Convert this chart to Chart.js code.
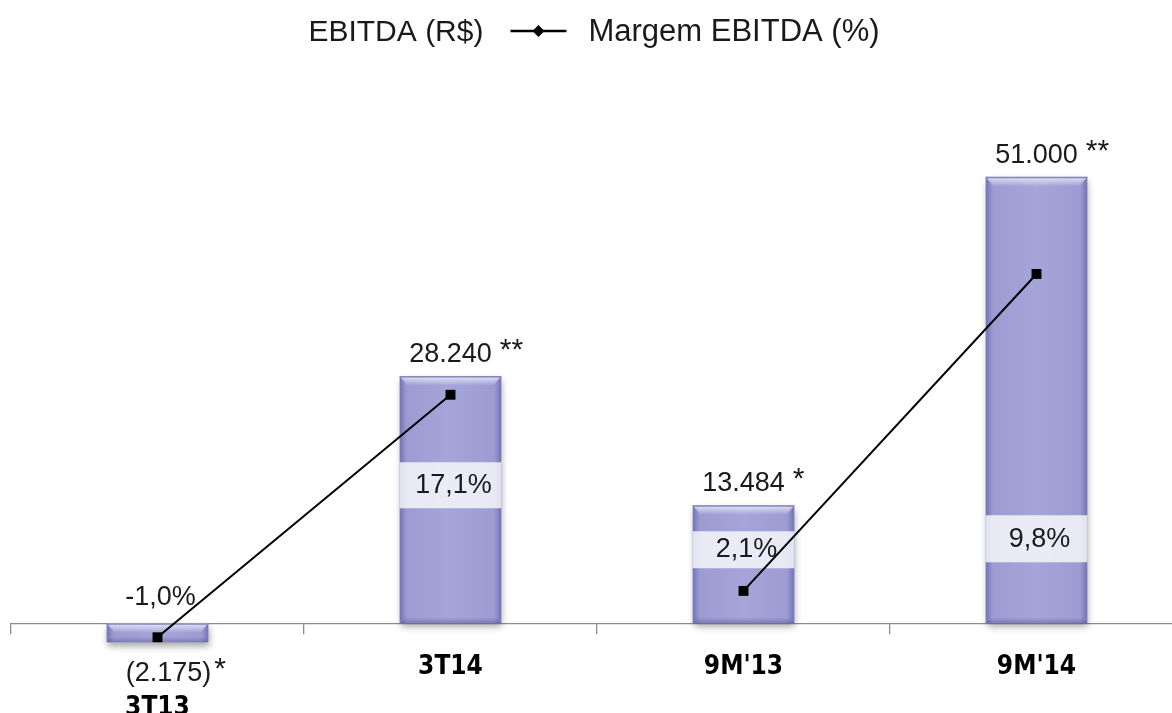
<!DOCTYPE html>
<html lang="pt-BR">
<head>
<meta charset="UTF-8">
<title>EBITDA e Margem EBITDA</title>
<script src="https://cdn.jsdelivr.net/npm/chart.js"></script>
<style>
    html, body { margin: 0; padding: 0; background: #fff; overflow: hidden; }
    #wrap { position: relative; width: 1190px; height: 713px; }
</style>
</head>
<body>
<div id="wrap"><canvas id="ebitdaChart"></canvas></div>
<script>
const categories = ['3T13', '3T14', "9M'13", "9M'14"];
const periodGroup = ['T', 'T', '9M', '9M'];   // line is not joined across groups
const ebitda = [-2175, 28240, 13484, 51000];
const ebitdaNotes = ['*', '**', '*', '**'];
const margin = [-1.0, 17.1, 2.1, 9.8];
// the margin line as it is drawn in the picture (own hidden axis)
const marginLine = [-1.6, 26.1, 3.7, 39.9];

const TEXT_FONT = "'Liberation Sans', Arial, sans-serif";
const AXIS_FONT = "'DejaVu Sans Condensed', 'DejaVu Sans', sans-serif";
const BAR_EDGE = '#7272b6';
const BAR_MID = '#a5a5d9';
const BAR_PCT = 0.347;

function fmtReais(v) {
    const s = Math.abs(v).toString().replace(/\B(?=(\d{3})+(?!\d))/g, '.');
    return v < 0 ? '(' + s + ')' : s;
}
function fmtPct(v) {
    return v.toFixed(1).replace('.', ',') + '%';
}

// percent labels: px above the zero line (box top, box bottom, text centre)
const pctPlacement = [
    { text: 26 },
    { top: 161, bottom: 115, text: 138 },
    { top: 92, bottom: 55, text: 74 },
    { top: 108, bottom: 61, text: 84 }
];

const barDecor = {
    id: 'barDecor',
    beforeDatasetDraw(chart, args) {
        if (args.meta.type !== 'bar') return;
        const c = chart.ctx;
        c.save();
        c.shadowColor = 'rgba(0,0,0,0.35)';
        c.shadowBlur = 7;
        c.shadowOffsetX = 1;
        c.shadowOffsetY = 4;
    },
    afterDatasetDraw(chart, args) {
        if (args.meta.type !== 'bar') return;
        const c = chart.ctx;
        c.restore();
        const zero = chart.scales.y.getPixelForValue(0);
        args.meta.data.forEach(function (bar, i) {
            const left = bar.x - bar.width / 2, right = bar.x + bar.width / 2;
            const top = Math.min(bar.y, bar.base), bottom = Math.max(bar.y, bar.base);
            const h = Math.min(9, (bottom - top) / 2);
            // top bevel
            let g = c.createLinearGradient(0, top, 0, top + h);
            g.addColorStop(0, 'rgba(255,255,255,0.75)');
            g.addColorStop(1, 'rgba(255,255,255,0.05)');
            c.fillStyle = g;
            c.beginPath();
            c.moveTo(left, top); c.lineTo(right, top);
            c.lineTo(right - 7, top + h); c.lineTo(left + 7, top + h);
            c.closePath(); c.fill();
            c.fillStyle = 'rgba(110,110,180,0.8)';
            c.fillRect(left, top, right - left, 1.5);
            // bottom bevel
            g = c.createLinearGradient(0, bottom - 6, 0, bottom);
            g.addColorStop(0, 'rgba(80,80,150,0)');
            g.addColorStop(1, 'rgba(80,80,150,0.45)');
            c.fillStyle = g;
            c.beginPath();
            c.moveTo(left + 6, bottom - 6); c.lineTo(right - 6, bottom - 6);
            c.lineTo(right, bottom); c.lineTo(left, bottom);
            c.closePath(); c.fill();

            // margin label (box + text), under the line
            const p = pctPlacement[i];
            if (p.top !== undefined) {
                c.fillStyle = 'rgba(255,255,255,0.78)';
                c.fillRect(left, zero - p.top, right - left, p.top - p.bottom);
            }
            c.fillStyle = '#1a1a1a';
            c.font = '27px ' + TEXT_FONT;
            c.textAlign = 'center';
            c.textBaseline = 'middle';
            c.fillText(fmtPct(margin[i]), bar.x + 3, zero - p.text);
        });
    },
    afterDraw(chart) {
        const c = chart.ctx;
        const meta = chart.getDatasetMeta(0);
        c.save();
        // value labels with notes
        meta.data.forEach(function (bar, i) {
            const txt = fmtReais(ebitda[i]);
            c.font = '27px ' + TEXT_FONT;
            c.textAlign = 'center';
            c.textBaseline = 'alphabetic';
            c.fillStyle = '#1a1a1a';
            const y = ebitda[i] < 0 ? Math.max(bar.y, bar.base) + 39 : Math.min(bar.y, bar.base) - 14;
            const x = ebitda[i] < 0 ? bar.x + 11 : bar.x;
            c.fillText(txt, x, y);
            const w = c.measureText(txt).width;
            c.font = '30px ' + TEXT_FONT;
            c.textAlign = 'left';
            c.fillText(ebitdaNotes[i], x + w / 2 + (ebitda[i] < 0 ? 3 : 8), y - 3);
        });
        // legend
        const a = chart.chartArea;
        const t1 = 'EBITDA (R$)', t2 = 'Margem EBITDA (%)';
        c.font = '30px ' + TEXT_FONT;
        const w1 = c.measureText(t1).width;
        c.font = '31px ' + TEXT_FONT;
        const w2 = c.measureText(t2).width;
        const total = w1 + 27 + 56 + 22 + w2;
        let x = (a.left + a.right) / 2 - total / 2 - 3;
        const base = 41;
        c.fillStyle = '#1a1a1a';
        c.textAlign = 'left';
        c.textBaseline = 'alphabetic';
        c.font = '30px ' + TEXT_FONT;
        c.fillText(t1, x, base);
        x += w1 + 27;
        c.strokeStyle = '#000';
        c.lineWidth = 2.5;
        c.beginPath(); c.moveTo(x, 31); c.lineTo(x + 56, 31); c.stroke();
        c.fillStyle = '#000';
        c.beginPath();
        c.moveTo(x + 28, 25); c.lineTo(x + 34, 31); c.lineTo(x + 28, 37); c.lineTo(x + 22, 31);
        c.closePath(); c.fill();
        x += 56 + 22;
        c.fillStyle = '#1a1a1a';
        c.font = '31px ' + TEXT_FONT;
        c.fillText(t2, x, base);
        c.restore();
    }
};

new Chart(document.getElementById('ebitdaChart').getContext('2d'), {
    type: 'bar',
    data: {
        labels: categories,
        datasets: [{
            label: 'EBITDA (R$)',
            data: ebitda,
            order: 1,
            yAxisID: 'y',
            categoryPercentage: 1,
            barPercentage: BAR_PCT,
            borderWidth: 0,
            backgroundColor: function (ctx) {
                const x = ctx.chart.scales.x;
                if (!x || ctx.type !== 'data' || !x.width) return BAR_MID;
                const cx = x.getPixelForValue(ctx.dataIndex);
                const w = x.width / categories.length * BAR_PCT;
                const g = ctx.chart.ctx.createLinearGradient(cx - w / 2, 0, cx + w / 2, 0);
                g.addColorStop(0, BAR_EDGE);
                g.addColorStop(0.07, '#9c9cd3');
                g.addColorStop(0.5, BAR_MID);
                g.addColorStop(0.93, '#9c9cd3');
                g.addColorStop(1, BAR_EDGE);
                return g;
            }
        }, {
            type: 'line',
            label: 'Margem EBITDA (%)',
            data: marginLine,
            order: 0,
            yAxisID: 'y1',
            borderColor: '#000',
            borderWidth: 2,
            tension: 0,
            segment: {
                borderColor: function (ctx) {
                    return periodGroup[ctx.p0DataIndex] === periodGroup[ctx.p1DataIndex] ? '#000' : 'rgba(0,0,0,0)';
                }
            },
            pointStyle: 'rect',
            pointRadius: 7,
            pointBackgroundColor: '#000',
            pointBorderWidth: 0
        }]
    },
    options: {
        responsive: true,
        maintainAspectRatio: false,
        animation: false,
        events: [],
        layout: { padding: { left: 11, right: 2, top: 98, bottom: 2.5 } },
        plugins: {
            legend: { display: false },
            tooltip: { enabled: false }
        },
        scales: {
            x: {
                position: { y: 0 },
                border: { color: '#8c8c8c', width: 1.3 },
                grid: { offset: true, drawOnChartArea: false, drawTicks: true, tickLength: 10, color: '#8c8c8c', lineWidth: 1.3 },
                ticks: {
                    color: '#000',
                    padding: 18,
                    maxRotation: 0,
                    autoSkip: false,
                    callback: function (value, index) {
                        return ebitda[index] < 0 ? ['', categories[index]] : categories[index];
                    },
                    font: function (ctx) {
                        return {
                            family: AXIS_FONT,
                            size: 26,
                            weight: 'bold',
                            lineHeight: ebitda[ctx.index] < 0 ? 1.45 : 1.2
                        };
                    }
                }
            },
            y: { display: false, min: -9450, max: 60000 },
            y1: { display: false, min: -9.45, max: 60 }
        }
    },
    plugins: [barDecor]
});
</script>
</body>
</html>
